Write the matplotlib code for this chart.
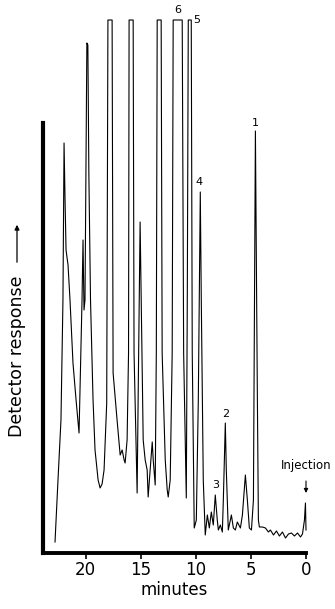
import matplotlib
matplotlib.use("Agg")
import matplotlib.pyplot as plt

# Retention time (minutes) and detector response (arbitrary units)
time_min = [22.77, 22.50, 22.23, 22.05, 21.95, 21.86, 21.77, 21.59, 21.41, 21.14, 20.86, 20.59,
            20.32, 20.23, 20.14, 20.05, 19.88, 19.79, 19.70, 19.55, 19.32, 19.14, 18.86, 18.68,
            18.50, 18.32, 18.08, 17.97, 17.59, 17.50, 17.14, 16.86, 16.68, 16.50, 16.41, 16.23,
            16.10, 16.05, 15.68, 15.60, 15.32, 15.23, 15.05, 14.95, 14.77, 14.59, 14.41, 14.32,
            14.14, 13.95, 13.86, 13.68, 13.58, 13.50, 13.14, 13.05, 12.77, 12.59, 12.50, 12.32,
            12.14, 12.05, 11.23, 11.10, 10.86, 10.77, 10.68, 10.41, 10.32, 10.14, 9.95, 9.77,
            9.59, 9.50, 9.32, 9.14, 8.95, 8.77, 8.59, 8.41, 8.23, 8.05, 7.95, 7.77, 7.59, 7.50,
            7.32, 7.23, 7.05, 6.86, 6.77, 6.59, 6.41, 6.23, 5.95, 5.77, 5.50, 5.32, 5.14, 4.95,
            4.77, 4.59, 4.41, 4.32, 4.23, 3.95, 3.68, 3.41, 3.23, 2.95, 2.68, 2.41, 2.14, 1.86,
            1.59, 1.32, 1.05, 0.77, 0.50, 0.32, 0.14, 0.05, 0.00]
response = [11, 73, 133, 253, 410, 353, 303, 288, 253, 190, 153, 120,
            253, 313, 243, 253, 510, 508, 380, 253, 153, 103, 73, 65,
            69, 83, 150, 533, 533, 180, 133, 98, 103, 93, 90, 113,
            200, 533, 533, 200, 60, 153, 331, 253, 113, 93, 83, 56,
            83, 111, 93, 68, 200, 533, 533, 200, 93, 63, 56, 73,
            200, 533, 533, 200, 55, 253, 533, 533, 200, 25, 33, 153,
            361, 253, 73, 18, 38, 25, 41, 28, 58, 33, 23, 28, 21, 53,
            130, 83, 23, 33, 38, 25, 23, 31, 25, 38, 78, 53, 25, 23,
            53, 422, 153, 33, 26, 26, 25, 21, 23, 18, 22, 17, 21, 15,
            19, 20, 17, 20, 16, 19, 33, 50, 23]

peak_labels = ["6", "5", "4", "3", "2", "1"]
peak_label_time = [11.59, 9.95, 9.68, 8.23, 7.32, 4.59]
peak_label_resp = [538, 528, 366, 63, 134, 425]

x_ticks = [20, 15, 10, 5, 0]
x_tick_labels = ["20", "15", "10", "5", "0"]

fig = plt.figure(figsize=(3.35, 6.09), dpi=100)
ax = fig.add_axes([43 / 335, 56 / 609, 263 / 335, 543 / 609])

ax.plot(time_min, response, color="black", lw=0.8, clip_on=False)

ax.set_xlim(23.86, 0)
ax.set_ylim(0, 543)

for s in ["top", "right"]:
    ax.spines[s].set_visible(False)
ax.spines["left"].set_linewidth(3.0)
ax.spines["bottom"].set_linewidth(2.8)
ax.spines["left"].set_bounds(0, 430)
ax.set_yticks([])
ax.set_xticks(x_ticks)
ax.set_xticklabels(x_tick_labels, fontsize=12)
ax.tick_params(axis="x", direction="out", length=4, width=1.2, pad=2)
ax.set_xlabel("minutes", fontsize=12, labelpad=1)

for lab, t, r in zip(peak_labels, peak_label_time, peak_label_resp):
    ax.text(t, r, lab, fontsize=8, ha="center", va="bottom", clip_on=False)

ax.annotate("", xy=(0.0, 60), xytext=(0.0, 72),
            arrowprops=dict(arrowstyle="-|>", color="black", lw=0.8,
                            mutation_scale=6, shrinkA=0, shrinkB=0),
            annotation_clip=False)
ax.text(0.0, 88, "Injection", fontsize=8.5, ha="center", va="center", clip_on=False)

fig.text(17 / 335, 1 - 356 / 609, "Detector response", rotation=90,
         fontsize=12.5, ha="center", va="center")
fig.add_artist(matplotlib.patches.FancyArrowPatch(
    (17 / 335, 1 - 265 / 609), (17 / 335, 1 - 222 / 609),
    transform=fig.transFigure, arrowstyle="-|>", mutation_scale=7,
    color="black", lw=0.9))

fig.savefig("out.png", dpi=100)
